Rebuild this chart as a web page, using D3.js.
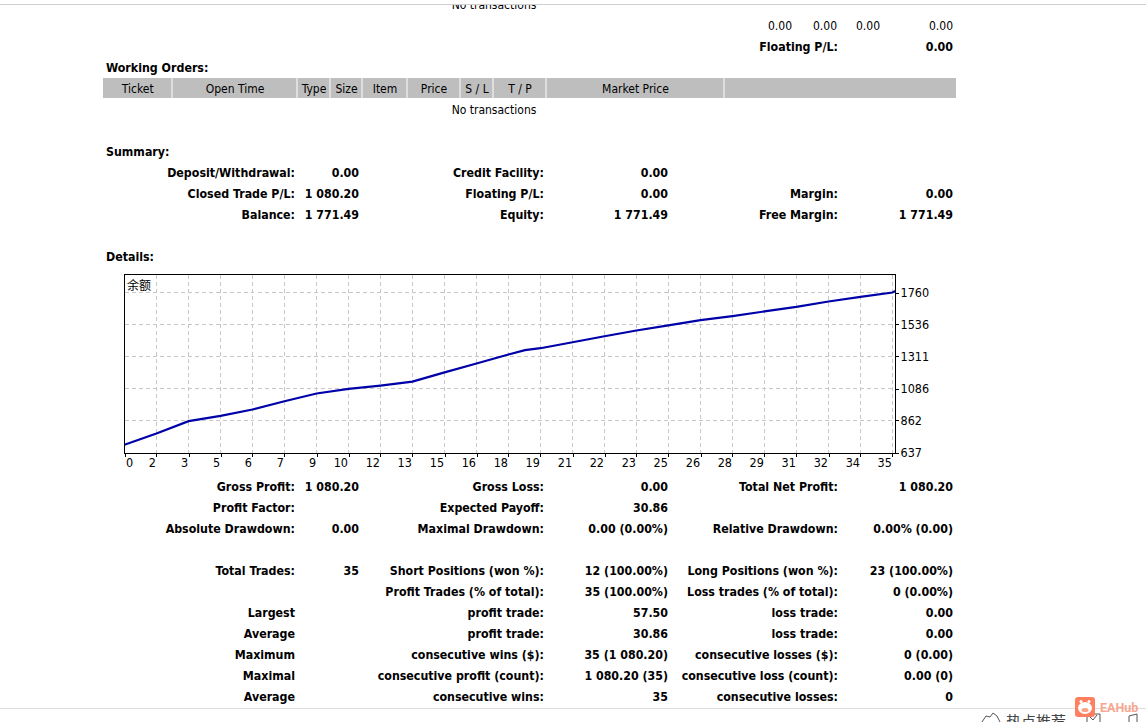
<!DOCTYPE html>
<html lang="en">
<head>
<meta charset="UTF-8">
<title>Details</title>
<script src="https://d3js.org/d3.v7.min.js"></script>
<style>
    html, body { margin: 0; padding: 0; background: #fff; overflow: hidden; }
    svg { display: block; }
    text { font-family: "DejaVu Sans Condensed", "DejaVu Sans", sans-serif; font-size: 12px; fill: #000; }
    .b { font-weight: bold; font-size: 12.3px; }
    .axis text { font-size: 12.5px; fill: #000; }
    .axis path, .axis line { stroke: #000; shape-rendering: crispEdges; }
    .grid line { stroke: #c8c8c8; stroke-dasharray: 4 3; shape-rendering: crispEdges; }
</style>
</head>
<body>
<div id="chart"></div>
<script>
    // balance curve
    const trades = [0, 1.45, 2.91, 4.36, 5.81, 7.26, 8.72, 10.17, 11.62, 13.07, 14.53, 15.98, 17.43,
        18.18, 18.88, 20.34, 21.79, 23.24, 24.69, 26.15, 27.6, 29.05, 30.5, 31.96, 33.41, 34.86, 35];
    const balance = [691, 770, 857, 894, 939, 997, 1051, 1083, 1107, 1135, 1199, 1262, 1325,
        1355, 1369, 1411, 1453, 1493, 1529, 1566, 1594, 1627, 1659, 1697, 1729, 1760, 1771];
    const gridTrades = [0, 1.45, 2.91, 4.36, 5.81, 7.26, 8.72, 10.17, 11.62, 13.07, 14.53, 15.98, 17.43,
        18.88, 20.34, 21.79, 23.24, 24.69, 26.15, 27.6, 29.05, 30.5, 31.96, 33.41, 34.86];
    const xTickLabels = [0, 2, 3, 5, 6, 7, 9, 10, 12, 13, 15, 16, 18, 19, 21, 22, 23, 25, 26, 28, 29, 31, 32, 34, 35];
    const yTicks = [637, 862, 1086, 1311, 1536, 1760];

    const headCols = ["Ticket", "Open Time", "Type", "Size", "Item", "Price", "S / L", "T / P", "Market Price", ""];
    const headEdges = [103, 172.5, 297.5, 330.5, 362.5, 407.5, 460.5, 493.5, 546.5, 724.5, 956];

    const summaryRows = [
        [172, "Deposit/Withdrawal:", "0.00", "Credit Facility:", "0.00", "", ""],
        [193, "Closed Trade P/L:", "1 080.20", "Floating P/L:", "0.00", "Margin:", "0.00"],
        [214, "Balance:", "1 771.49", "Equity:", "1 771.49", "Free Margin:", "1 771.49"]
    ];
    const detailRows = [
        [486, "Gross Profit:", "1 080.20", "Gross Loss:", "0.00", "Total Net Profit:", "1 080.20"],
        [507, "Profit Factor:", "", "Expected Payoff:", "30.86", "", ""],
        [528, "Absolute Drawdown:", "0.00", "Maximal Drawdown:", "0.00 (0.00%)", "Relative Drawdown:", "0.00% (0.00)"],
        [570, "Total Trades:", "35", "Short Positions (won %):", "12 (100.00%)", "Long Positions (won %):", "23 (100.00%)"],
        [591, "", "", "Profit Trades (% of total):", "35 (100.00%)", "Loss trades (% of total):", "0 (0.00%)"],
        [612, "Largest", "", "profit trade:", "57.50", "loss trade:", "0.00"],
        [633, "Average", "", "profit trade:", "30.86", "loss trade:", "0.00"],
        [654, "Maximum", "", "consecutive wins ($):", "35 (1 080.20)", "consecutive losses ($):", "0 (0.00)"],
        [675, "Maximal", "", "consecutive profit (count):", "1 080.20 (35)", "consecutive loss (count):", "0.00 (0)"],
        [696, "Average", "", "consecutive wins:", "35", "consecutive losses:", "0"]
    ];
    const topRowX = [792, 837, 880, 953];
    const colRight = [295, 359, 544, 668, 838, 953];

    const svg = d3.select("#chart").append("svg").attr("width", 1146).attr("height", 722);

    // top of the page, cut by the browser line
    svg.append("clipPath").attr("id", "cut").append("rect")
        .attr("x", 0).attr("y", 5).attr("width", 1146).attr("height", 30);
    svg.append("text").attr("x", 494).attr("y", 9).attr("text-anchor", "middle")
        .attr("clip-path", "url(#cut)").text("No transactions");
    svg.append("line").attr("x1", 0).attr("x2", 1146).attr("y1", 4.5).attr("y2", 4.5).attr("stroke", "#d0d0d0");

    svg.selectAll(".top").data(topRowX).enter().append("text")
        .attr("x", d => d).attr("y", 30).attr("text-anchor", "end").text("0.00");
    svg.append("text").attr("class", "b").attr("x", 838).attr("y", 51).attr("text-anchor", "end").text("Floating P/L:");
    svg.append("text").attr("class", "b").attr("x", 953).attr("y", 51).attr("text-anchor", "end").text("0.00");

    svg.selectAll(".sect").data([[72, "Working Orders:"], [156, "Summary:"], [261, "Details:"]]).enter().append("text")
        .attr("class", "b").attr("x", 106).attr("y", d => d[0]).text(d => d[1]);

    // header band of the orders table
    svg.selectAll(".cell").data(headCols).enter().append("rect")
        .attr("x", (d, i) => headEdges[i]).attr("y", 78)
        .attr("width", (d, i) => headEdges[i + 1] - headEdges[i] - (i < headCols.length - 1 ? 1 : 0))
        .attr("height", 20).attr("fill", "#bebebe");
    svg.selectAll(".headtxt").data(headCols).enter().append("text")
        .attr("x", (d, i) => (headEdges[i] + headEdges[i + 1]) / 2).attr("y", 93)
        .attr("text-anchor", "middle").text(d => d);
    svg.append("text").attr("x", 494).attr("y", 114).attr("text-anchor", "middle").text("No transactions");

    function drawRows(rows) {
        rows.forEach(r => {
            svg.selectAll(null).data(r.slice(1)).enter().append("text")
                .attr("class", "b")
                .attr("x", (d, i) => colRight[i]).attr("y", r[0] + 5)
                .attr("text-anchor", "end").text(d => d);
        });
    }
    drawRows(summaryRows);
    drawRows(detailRows);

    // balance chart
    const x = d3.scaleLinear().domain([0, 35]).range([124.5, 895.5]);
    const y = d3.scaleLinear().domain([637, 1760]).range([452.5, 292.5]);
    const plotTop = 274.5, plotBottom = 453.5;

    const grid = svg.append("g").attr("class", "grid");
    grid.selectAll(".v").data(gridTrades.slice(1)).enter().append("line")
        .attr("x1", d => x(d)).attr("x2", d => x(d)).attr("y1", plotTop).attr("y2", plotBottom);
    grid.selectAll(".h").data(yTicks.slice(1)).enter().append("line")
        .attr("y1", d => y(d)).attr("y2", d => y(d)).attr("x1", x.range()[0]).attr("x2", x.range()[1]);

    svg.append("path").datum(trades.map((t, i) => [t, balance[i]]))
        .attr("d", d3.line().x(d => x(d[0])).y(d => y(d[1])))
        .attr("fill", "none").attr("stroke", "#0000a8").attr("stroke-width", 2.2);

    svg.append("rect").attr("x", 124.5).attr("y", plotTop).attr("width", 771).attr("height", plotBottom - plotTop)
        .attr("fill", "none").attr("stroke", "#000").attr("shape-rendering", "crispEdges");

    const xAxis = svg.append("g").attr("class", "axis").attr("transform", `translate(0,${plotBottom})`)
        .call(d3.axisBottom(x).tickValues(gridTrades).tickFormat((d, i) => xTickLabels[i]).tickSize(3).tickSizeOuter(0));
    xAxis.select(".domain").remove();
    xAxis.selectAll("text").attr("text-anchor", (d, i) => i ? "end" : "start")
        .attr("dx", (d, i) => i ? "-1" : "1").attr("y", 5);

    const yAxis = svg.append("g").attr("class", "axis").attr("transform", "translate(895.5,0)")
        .call(d3.axisRight(y).tickValues(yTicks).tickFormat(d3.format("d")).tickSize(3).tickSizeOuter(0));
    yAxis.select(".domain").remove();
    yAxis.selectAll("text").attr("x", 5);

    svg.append("text").attr("x", 127).attr("y", 290)
        .style("font-family", '"Noto Sans CJK SC"').style("font-size", "12px").text("余额");

    // page footer with the site badge
    svg.append("line").attr("x1", 0).attr("x2", 1146).attr("y1", 708.5).attr("y2", 708.5).attr("stroke", "#dddddd");
    svg.append("text").attr("x", 1006).attr("y", 727)
        .style("font-family", '"Noto Sans CJK SC"').style("font-size", "15px").style("fill", "#444")
        .text("热点推荐");
    svg.append("path").attr("d", "M982 722 L986 716 L990 717 L993 713 L997 716 L1000 722")
        .attr("fill", "none").attr("stroke", "#555");
    svg.append("path").attr("d", "M1087 722 L1087 714 L1100 714 L1100 722 M1090 717 L1093 720 L1097 715")
        .attr("fill", "none").attr("stroke", "#555");
    svg.append("path").attr("d", "M1129 722 L1129 716 L1137 714 L1137 722")
        .attr("fill", "none").attr("stroke", "#555");

    const badge = svg.append("g");
    badge.append("rect").attr("x", 1075).attr("y", 697).attr("width", 20).attr("height", 20).attr("rx", 3).attr("fill", "#ff7f5f");
    badge.append("ellipse").attr("cx", 1085).attr("cy", 708).attr("rx", 7).attr("ry", 6).attr("fill", "#fff");
    badge.append("ellipse").attr("cx", 1085).attr("cy", 710).attr("rx", 3.5).attr("ry", 2).attr("fill", "#ff9f85");
    badge.append("circle").attr("cx", 1081).attr("cy", 701.5).attr("r", 1.5).attr("fill", "#fff");
    badge.append("circle").attr("cx", 1089).attr("cy", 701.5).attr("r", 1.5).attr("fill", "#fff");
    badge.append("text").attr("x", 1100).attr("y", 712).style("font-family", "Roboto").style("font-weight", "bold")
        .style("font-size", "12.5px").style("fill", "#f7a78f").text("EAHub");
</script>
</body>
</html>
